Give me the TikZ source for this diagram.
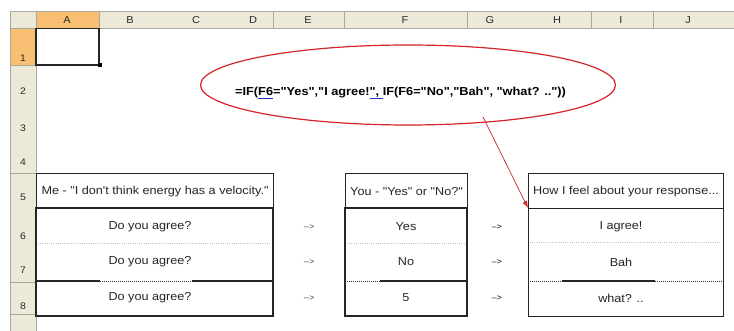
\documentclass[tikz,border=0pt]{standalone}
\usepackage{fontspec}
\setmainfont{Liberation Sans}
% plain family without TeX ligatures, so quotes stay straight
\newfontfamily\sheetfont[FakeStretch=1.1]{Liberation Sans}
\usetikzlibrary{calc,shapes.geometric,arrows.meta}
\definecolor{hdrbg}{HTML}{ECE9D8}
\definecolor{hdrline}{HTML}{ACA899}
\definecolor{hdrsel}{HTML}{F8BE72}
\definecolor{hdrtext}{HTML}{2A2A2A}
\definecolor{linkred}{HTML}{D3232B}
\definecolor{refblue}{HTML}{2030C0}
% blue reference underline inside the formula text
\newlength\refw
\newcommand\refmark[1]{\settowidth\refw{#1}\rlap{\color{refblue}\rule[-2.6pt]{\refw}{1pt}}#1}
\tikzset{
  hdrcell/.style={fill=hdrbg, draw=hdrline, line width=0.8pt},
  selcell/.style={fill=hdrsel, draw=hdrline, line width=0.8pt},
  collabel/.style={font=\sheetfont\fontsize{10}{12}\selectfont, text=hdrtext, inner sep=0pt},
  rowlabel/.style={font=\sheetfont\fontsize{9.5}{11}\selectfont, text=hdrtext, inner sep=0pt},
  tabline/.style={draw=black!85, line width=1.1pt},
  softdots/.style={draw=black!25, line width=0.8pt, dash pattern=on 1pt off 1.2pt},
  harddots/.style={draw=black!80, line width=0.8pt, dash pattern=on 1pt off 1pt},
  celltext/.style={font=\sheetfont\fontsize{11.5}{13}\selectfont, text=black!85, inner sep=0pt},
  arrowtext/.style={font=\sheetfont\fontsize{8}{10}\selectfont, inner sep=0pt},
}
\begin{document}
\begin{tikzpicture}[x=1pt, y=-1pt]
\useasboundingbox (0,0) rectangle (734,331);
\fill[white] (0,0) rectangle (734,331);

% column header strip
\path[hdrcell] (10,11.5) rectangle (734,28.5);
\path[selcell] (36,11.5) rectangle (99,28.5);
\foreach \x in {36,99,273,344,467,591,653}
  \draw[hdrline, line width=0.8pt] (\x,11.5) -- (\x,28.5);
\draw[black!70, line width=1pt] (36,28.5) -- (99,28.5);
\foreach \name/\x in {A/67,B/130,C/196,D/253,E/308,F/405,G/490,H/557,I/621,J/688}
  \node[collabel] (col\name) at (\x,20.5) {\name};

% row header strip
\path[hdrcell] (10,28.5) rectangle (36,331);
\path[selcell] (10,28.5) rectangle (36,65);
\foreach \y in {65,173,282,314}
  \draw[hdrline, line width=0.8pt] (10,\y) -- (36,\y);
\draw[black!70, line width=1pt] (36,28.5) -- (36,65);
\foreach \n/\y in {1/58,2/91,3/128,4/162,5/197,6/236,7/270,8/306}
  \node[rowlabel] (row\n) at (23,\y) {\n};

% active cell A1 with its fill handle
\draw[black!85, line width=1.2pt] (36,28.5) rectangle (99,65);
\fill[black] (97.5,63.5) rectangle (101.5,67.5);

% table: statement
\node[tabline, minimum width=237pt, minimum height=35pt, anchor=north west, inner sep=0pt] (t1h) at (36,173) {};
\node[celltext] at (t1h.center) {Me - "I don't think energy has a velocity."};
\draw[tabline] (36,208) rectangle (273,316);
\draw[softdots] (38,243) -- (271,243);
\draw[tabline] (36,281) -- (100,281);
\draw[harddots] (100,281) -- (192,281);
\draw[tabline] (192,281) -- (273,281);
\node[celltext] (t1r6) at (150,227) {Do you agree?};
\node[celltext] (t1r7) at (150,262) {Do you agree?};
\node[celltext] (t1r8) at (150,298) {Do you agree?};

% arrows in column E
\foreach \r/\y in {6/227,7/262,8/298}
  \node[arrowtext, text=black!75] (e\r) at (309,\y) {-->};

% table: reply
\node[tabline, minimum width=122pt, minimum height=35pt, anchor=north west, inner sep=0pt] (t2h) at (345,173) {};
\node[celltext] at (t2h.center) {You - "Yes" or "No?"};
\draw[tabline] (345,208) rectangle (467,316);
\draw[softdots] (347,243) -- (465,243);
\draw[harddots] (345,281) -- (380,281);
\draw[tabline] (380,281) -- (467,281);
\node[celltext] (t2r6) at (406,227) {Yes};
\node[celltext] (t2r7) at (406,262) {No};
\node[celltext] (t2r8) at (406,298) {5};

% arrows in column G
\foreach \r/\y in {6/227,7/262,8/298}
  \node[arrowtext, text=black] (g\r) at (497,\y) {–>};

% table: response
\node[tabline, minimum width=195pt, minimum height=35pt, anchor=north west, inner sep=0pt] (t3h) at (528,173) {};
\node[celltext] at (t3h.center) {How I feel about your response...};
\node[tabline, minimum width=195pt, minimum height=108pt, anchor=north west, inner sep=0pt] (t3b) at (528,208) {};
\draw[softdots] (530,242) -- (721,242);
\draw[harddots] (528,281) -- (562,281);
\draw[tabline] (562,281) -- (655,281);
\draw[harddots] (655,281) -- (723,281);
\node[celltext] (t3r6) at (621,227) {I agree!};
\node[celltext] (t3r7) at (621,262) {Bah};
\node[celltext] (t3r8) at (621,298) {what? ..};

% formula callout
\node[draw=linkred, line width=1.2pt, ellipse, minimum width=415pt, minimum height=80pt, inner sep=0pt] (formula) at (408,85) {};
\node[font=\sheetfont\bfseries\fontsize{11.6}{13}\selectfont, inner sep=0pt, anchor=west] (ftext) at (235,93)
  {=IF(\refmark{F6}="Yes","I agree!\refmark{", }IF(F6="No","Bah", "what? .."))};

% pointer from the formula to the result column
\coordinate (tail) at (483,117);
\draw[linkred, line width=0.7pt, -{Latex[length=7pt,width=5pt]}] (tail) -- (t3b.north west);
\end{tikzpicture}
\end{document}
